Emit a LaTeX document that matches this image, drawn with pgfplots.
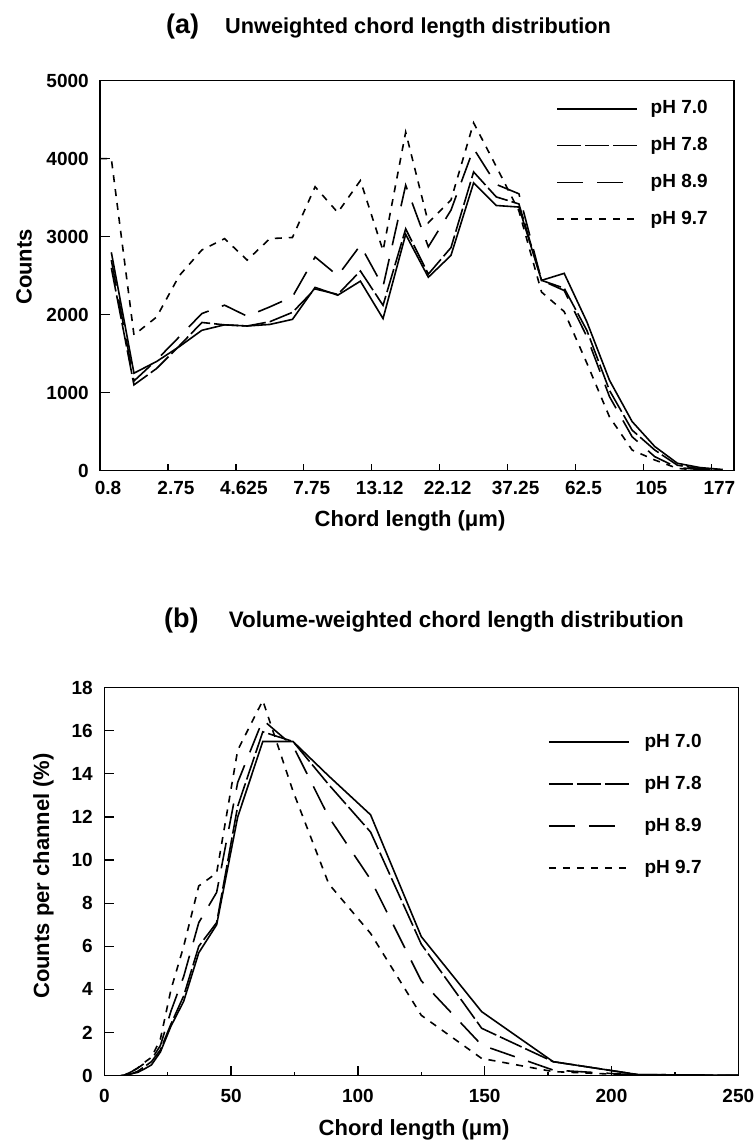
\documentclass[border=0pt]{standalone}
\usepackage{fontspec}
\setmainfont{Liberation Sans}
\usepackage{pgfplots}
\pgfplotsset{compat=1.18}
\pgfplotsset{
  common/.style={
    scale only axis,
    axis line style={line width=1.6pt},
    tick style={line width=1.3pt, black},
    tick align=inside,
    tick pos=left,
    ticklabel style={font=\fontsize{19}{19}\bfseries\selectfont},
    /pgf/number format/assume math mode=true,
    /pgf/number format/1000 sep={},
    every axis plot/.append style={line width=1.6pt, black},
    legend cell align=left,
    legend image code/.code={\draw[##1] (0pt,0pt) -- (80pt,0pt);},
  },
  s70/.style={solid},
  s78/.style={dash pattern=on 24pt off 4pt},
  s89/.style={dash pattern=on 26pt off 14pt},
  s97/.style={dash pattern=on 7pt off 7pt},
}
\begin{document}
\begin{tikzpicture}
\useasboundingbox (0pt,0pt) rectangle (755pt,1140pt);
% ---------- panel (a)
\begin{axis}[common,
  at={(100pt,669.3pt)}, anchor=south west,
  width=634pt, height=390pt,
  xmin=0, xmax=28, ymin=0, ymax=5000,
  xtick={0,3,...,27},
  xticklabels={0.8,2.75,4.625,7.75,13.12,22.12,37.25,62.5,105,177},
  ytick={0,1000,...,5000},
  xtick style={/pgfplots/major tick length=7pt},
  ytick style={/pgfplots/major tick length=10pt},
  xticklabel style={xshift=8pt, yshift=-7pt},
  yticklabel style={xshift=-7.7pt},
  legend style={draw=none, fill=none, at={(0.72,0.9505)}, anchor=north west,
    inner sep=0pt, outer sep=0pt, row sep=18.7pt,
    font=\fontsize{19}{19}\bfseries\selectfont,
    nodes={inner sep=0pt, text height=14pt, text depth=4pt},
    /tikz/every odd column/.append style={column sep=12.6pt}},
]
\addplot[s70] coordinates {
(0.5,2800)(1.5,1250)(2.5,1400)(3.5,1590)(4.5,1800)(5.5,1870)(6.5,1855)(7.5,1875)
(8.5,1940)(9.5,2350)(10.5,2250)(11.5,2430)(12.5,1950)(13.5,3030)(14.5,2480)(15.5,2760)
(16.5,3690)(17.5,3400)(18.5,3380)(19.5,2440)(20.5,2530)(21.5,1910)(22.5,1160)(23.5,630)
(24.5,310)(25.5,95)(26.5,40)(27.5,15)};
\addlegendentry{pH 7.0}
\addplot[s78] coordinates {
(0.5,2600)(1.5,1100)(2.5,1310)(3.5,1600)(4.5,1900)(5.5,1870)(6.5,1855)(7.5,1910)
(8.5,2030)(9.5,2330)(10.5,2260)(11.5,2560)(12.5,2120)(13.5,3100)(14.5,2520)(15.5,2860)
(16.5,3830)(17.5,3510)(18.5,3420)(19.5,2440)(20.5,2340)(21.5,1800)(22.5,1030)(23.5,520)
(24.5,265)(25.5,70)(26.5,25)(27.5,10)};
\addlegendentry{pH 7.8}
\addplot[s89] coordinates {
(0.5,2700)(1.5,1150)(2.5,1420)(3.5,1716)(4.5,2015)(5.5,2122)(6.5,1980)(7.5,2100)
(8.5,2230)(9.5,2740)(10.5,2500)(11.5,2890)(12.5,2360)(13.5,3660)(14.5,2870)(15.5,3340)
(16.5,4130)(17.5,3670)(18.5,3550)(19.5,2440)(20.5,2310)(21.5,1720)(22.5,950)(23.5,435)
(24.5,180)(25.5,40)(26.5,15)(27.5,5)};
\addlegendentry{pH 8.9}
\addplot[s97] coordinates {
(0,4000)(0.5,4000)(1.5,1740)(2.5,1970)(3.5,2500)(4.5,2830)(5.5,2975)(6.5,2700)(7.5,2975)
(8.5,2990)(9.5,3640)(10.5,3310)(11.5,3720)(12.5,2820)(13.5,4340)(14.5,3180)(15.5,3470)
(16.5,4460)(17.5,3900)(18.5,3330)(19.5,2290)(20.5,2040)(21.5,1380)(22.5,690)(23.5,265)
(24.5,137)(25.5,30)(26.5,5)(27.5,0)};
\addlegendentry{pH 9.7}
\end{axis}
% ---------- panel (b)
\begin{axis}[common,
  at={(104.3pt,64.3pt)}, anchor=south west,
  width=634pt, height=388.1pt,
  xmin=0, xmax=250, ymin=0, ymax=18,
  xtick={0,50,...,250}, minor x tick num=1,
  ytick={0,2,...,18},
  major tick length=10pt, minor tick length=4pt,
  xticklabel style={yshift=-9.7pt},
  yticklabel style={xshift=-8pt},
  legend style={draw=none, fill=none, at={(0.6998,0.883)}, anchor=north west,
    inner sep=0pt, outer sep=0pt, row sep=24pt,
    font=\fontsize{19}{19}\bfseries\selectfont,
    nodes={inner sep=0pt, text height=14pt, text depth=4pt},
    /tikz/every odd column/.append style={column sep=15pt}},
]
\addplot[s70] coordinates {
(6.5,0)(7.75,0)(9.22,0.05)(10.97,0.1)(13.12,0.15)(15.6,0.3)(18.6,0.5)(22.12,1.1)
(26.3,2.3)(31.3,3.45)(37.25,5.7)(44.3,7.0)(52.6,12.0)(62.5,15.5)(74.4,15.5)(88.5,13.9)
(105,12.1)(125,6.45)(148.8,2.97)(177,0.65)(210.5,0.05)(250,0.02)};
\addlegendentry{pH 7.0}
\addplot[s78] coordinates {
(6.5,0)(7.75,0)(9.22,0.05)(10.97,0.1)(13.12,0.2)(15.6,0.4)(18.6,0.65)(22.12,1.2)
(26.3,2.4)(31.3,3.7)(37.25,6.0)(44.3,7.1)(52.6,12.5)(62.5,15.95)(74.4,15.5)(88.5,13.5)
(105,11.3)(125,6.1)(148.8,2.2)(177,0.65)(210.5,0.05)(250,0.02)};
\addlegendentry{pH 7.8}
\addplot[s89] coordinates {
(6.5,0)(7.75,0.02)(9.22,0.1)(10.97,0.2)(13.12,0.35)(15.6,0.55)(18.6,0.75)(22.12,1.4)
(26.3,3.0)(31.3,4.6)(37.25,7.1)(44.3,8.5)(52.6,13.6)(62.5,16.5)(74.4,15.3)(88.5,12.0)
(105,9.1)(125,4.4)(148.8,1.42)(177,0.26)(210.5,0.03)(250,0)};
\addlegendentry{pH 8.9}
\addplot[s97] coordinates {
(6.5,0)(7.75,0.02)(9.22,0.1)(10.97,0.2)(13.12,0.35)(15.6,0.6)(18.6,0.85)(22.12,1.7)
(26.3,4.0)(31.3,6.0)(37.25,8.8)(44.3,9.4)(52.6,15.1)(62.5,17.4)(74.4,13.2)(88.5,8.9)
(105,6.6)(125,2.8)(148.8,0.8)(177,0.19)(210.5,0.02)(250,0)};
\addlegendentry{pH 9.7}
\end{axis}
% ---------- titles and labels
\node[anchor=base west, inner sep=0pt, font=\fontsize{27}{27}\bfseries\selectfont] at (166pt,1106.7pt) {(a)};
\node[anchor=base west, inner sep=0pt, font=\fontsize{21.7}{21.7}\bfseries\selectfont] at (225pt,1106.7pt) {Unweighted chord length distribution};
\node[anchor=base, inner sep=0pt, font=\fontsize{22}{22}\bfseries\selectfont] at (410pt,613.3pt) {Chord length (μm)};
\node[anchor=base, rotate=90, inner sep=0pt, font=\fontsize{22}{22}\bfseries\selectfont] at (31.7pt,873pt) {Counts};
\node[anchor=base west, inner sep=0pt, font=\fontsize{27}{27}\bfseries\selectfont] at (164pt,512pt) {(b)};
\node[anchor=base west, inner sep=0pt, font=\fontsize{22.4}{22.4}\bfseries\selectfont] at (228.6pt,512pt) {Volume-weighted chord length distribution};
\node[anchor=base, inner sep=0pt, font=\fontsize{22}{22}\bfseries\selectfont] at (414pt,5pt) {Chord length (μm)};
\node[anchor=base, rotate=90, inner sep=0pt, font=\fontsize{22}{22}\bfseries\selectfont] at (49pt,264pt) {Counts per channel (\%)};
\end{tikzpicture}
\end{document}
